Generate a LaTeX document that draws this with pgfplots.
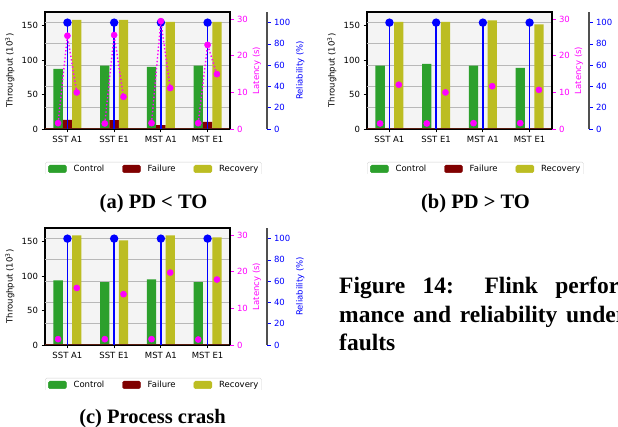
\documentclass[border=0pt]{standalone}
\usepackage{fontspec}
\setmainfont{DejaVu Sans}
\newfontfamily\capfont{Liberation Serif}
\usepackage{pgfplots}
\usepackage{pgfplotstable}
\pgfplotsset{compat=1.18}
\definecolor{cgreen}{HTML}{2CA02C}
\definecolor{cmaroon}{HTML}{800000}
\definecolor{colive}{HTML}{BCBD22}
\definecolor{bgc}{HTML}{F4F4F4}
\definecolor{gridc}{HTML}{B8B8B8}
\definecolor{spinec}{HTML}{505050}
\definecolor{brownline}{HTML}{5A1E10}
\definecolor{cmag}{HTML}{FF00FF}
\definecolor{cblue}{HTML}{0000FF}

\pgfplotstableread{
x ctl fail rec lctl lfail lrec
0 87.4 13.1 158.7 1.6 25.5 10.0
1 92.2 13.0 158.7 1.5 25.7 8.8
2 90.3 5.8 155.8 1.6 29.5 11.2
3 92.2 10.2 155.8 1.6 23.0 15.0
}\dataA
\pgfplotstableread{
x ctl rec lctl lrec
0 92.2 155.8 1.5 12.1
1 94.7 155.8 1.5 10.0
2 92.2 157.8 1.6 11.7
3 88.8 151.9 1.6 10.7
}\dataB
\pgfplotstableread{
x ctl rec lctl lrec
0 93.9 159.2 1.6 15.6
1 91.5 151.9 1.6 13.9
2 95.3 159.2 1.6 19.8
3 91.5 156.3 1.5 17.9
}\dataC

\pgfplotsset{
 every axis/.append style={font=\fontsize{8.5}{10}\selectfont, /pgf/number format/assume math mode=true},
 panelbase/.style={scale only axis, height=117pt, anchor=south west, ymin=0},
 thrax/.style={panelbase, width=185pt, xmin=-0.48, xmax=3.48, ymax=170,
  ytick={0,50,100,150}, xtick={0,1,2,3}, xticklabels={SST A1,SST E1,MST A1,MST E1},
  tick align=outside, xtick pos=bottom, ytick pos=left,
  major tick length=3.5pt, every tick/.style={black, line width=0.8pt},
  axis line style={black, line width=1.1pt},
  axis background/.style={fill=bgc},
  ylabel={Throughput (10\textsuperscript{3})}, ylabel shift=-3pt,
  extra y ticks={30.91,61.82,92.73,123.64,154.55}, extra y tick labels={},
  extra y tick style={grid=major, major grid style={gridc, line width=1pt}, major tick length=0pt},
  legend columns=3,
  legend style={at={(0,-0.282)}, anchor=north west, draw=gray!35, rounded corners=1.5pt,
   inner xsep=3pt, inner ysep=2pt, font=\fontsize{8.5}{10}\selectfont,
   nodes={inner xsep=0pt, inner ysep=1pt},
   /tikz/column sep=7pt, /tikz/every even column/.append style={column sep=18pt}},
 },
 latax/.style={panelbase, width=185pt, xmin=-0.48, xmax=3.48, ymax=32,
  axis y line*=right, axis x line=none, ytick={0,10,20,30}, tick align=outside,
  major tick length=3.5pt, ytick style={cmag, line width=0.8pt},
  yticklabel style={cmag}, y axis line style={black, line width=1.1pt},
  ylabel={Latency (s)}, ylabel style={cmag}, ylabel shift=-2pt, unbounded coords=jump},
 relaxis/.style={panelbase, width=222pt, xmin=-0.48, xmax=4.272, ymax=110,
  axis y line*=right, axis x line=none, ytick={0,20,40,60,80,100}, tick align=outside,
  major tick length=3.5pt, ytick style={cblue, line width=0.8pt},
  yticklabel style={cblue}, y axis line style={spinec, line width=1.1pt},
  ylabel={Reliability (\%)}, ylabel style={cblue}, ylabel shift=-1pt},
 bars/.style={ybar, bar width=0.2, bar shift=0pt, draw=none, forget plot},
 latdot/.style={only marks, mark=*, mark size=3.1pt, color=cmag, mark options={fill=cmag, draw=cmag}, forget plot},
 stem/.style={color=cblue, line width=1.5pt, ycomb, mark=*, mark size=3.4pt, mark options={fill=cblue, draw=cblue}},
 leg/.style={legend image code/.code={\fill[#1] (0pt,-3.5pt) rectangle (18pt,4pt);}},
}

\begin{document}
\begin{tikzpicture}[x=1pt,y=1pt]
\useasboundingbox (0,0) rectangle (618,427);
\clip (0,0) rectangle (618,427);

% ---------- (a) ----------
\begin{axis}[thrax, at={(45pt,298pt)}]
\addlegendimage{leg=cgreen}\addlegendentry{Control}
\addlegendimage{leg=cmaroon}\addlegendentry{Failure}
\addlegendimage{leg=colive}\addlegendentry{Recovery}
\addplot[bars, fill=cgreen] table[x expr=\thisrow{x}-0.2, y=ctl]{\dataA};
\addplot[bars, fill=cmaroon] table[x=x, y=fail]{\dataA};
\addplot[bars, fill=colive] table[x expr=\thisrow{x}+0.2, y=rec]{\dataA};
\draw[brownline, line width=1.3pt] (rel axis cs:0,0) -- (rel axis cs:1,0);
\end{axis}
\begin{axis}[relaxis, at={(45pt,298pt)}]
\addplot[stem] coordinates {(0,100) (1,100) (2,100) (3,100)};
\end{axis}
\begin{axis}[latax, at={(45pt,298pt)}]
\addplot[cmag, line width=1.4pt, dash pattern=on 1.4pt off 2.2pt] coordinates {
(-0.2,1.6) (0,25.5) (0.2,10.0) (0.5,nan)
(0.8,1.5) (1,25.7) (1.2,8.8) (1.5,nan)
(1.8,1.6) (2,29.5) (2.2,11.2) (2.5,nan)
(2.8,1.6) (3,23.0) (3.2,15.0)};
\addplot[latdot] table[x expr=\thisrow{x}-0.2, y=lctl]{\dataA};
\addplot[latdot] table[x=x, y=lfail]{\dataA};
\addplot[latdot] table[x expr=\thisrow{x}+0.2, y=lrec]{\dataA};
\end{axis}

% ---------- (b) ----------
\begin{axis}[thrax, at={(367pt,298pt)}]
\addlegendimage{leg=cgreen}\addlegendentry{Control}
\addlegendimage{leg=cmaroon}\addlegendentry{Failure}
\addlegendimage{leg=colive}\addlegendentry{Recovery}
\addplot[bars, fill=cgreen] table[x expr=\thisrow{x}-0.2, y=ctl]{\dataB};
\addplot[bars, fill=colive] table[x expr=\thisrow{x}+0.2, y=rec]{\dataB};
\draw[brownline, line width=1.3pt] (rel axis cs:0,0) -- (rel axis cs:1,0);
\end{axis}
\begin{axis}[relaxis, at={(367pt,298pt)}]
\addplot[stem] coordinates {(0,100) (1,100) (2,100) (3,100)};
\end{axis}
\begin{axis}[latax, at={(367pt,298pt)}]
\addplot[latdot] table[x expr=\thisrow{x}-0.2, y=lctl]{\dataB};
\addplot[latdot] table[x expr=\thisrow{x}+0.2, y=lrec]{\dataB};
\end{axis}

% ---------- (c) ----------
\begin{axis}[thrax, at={(45pt,82pt)}]
\addlegendimage{leg=cgreen}\addlegendentry{Control}
\addlegendimage{leg=cmaroon}\addlegendentry{Failure}
\addlegendimage{leg=colive}\addlegendentry{Recovery}
\addplot[bars, fill=cgreen] table[x expr=\thisrow{x}-0.2, y=ctl]{\dataC};
\addplot[bars, fill=colive] table[x expr=\thisrow{x}+0.2, y=rec]{\dataC};
\draw[brownline, line width=1.3pt] (rel axis cs:0,0) -- (rel axis cs:1,0);
\end{axis}
\begin{axis}[relaxis, at={(45pt,82pt)}]
\addplot[stem] coordinates {(0,100) (1,100) (2,100) (3,100)};
\end{axis}
\begin{axis}[latax, at={(45pt,82pt)}]
\addplot[latdot] table[x expr=\thisrow{x}-0.2, y=lctl]{\dataC};
\addplot[latdot] table[x expr=\thisrow{x}+0.2, y=lrec]{\dataC};
\end{axis}

% legend crop covers
\fill[white] (38,253.3) rectangle (272,236);
\fill[white] (360,253.3) rectangle (594,236);
\fill[white] (38,37.3) rectangle (272,25);

% captions
\node[anchor=base, inner sep=0pt, font=\capfont\bfseries\fontsize{20.5}{24}\selectfont] at (153.5,218.7) {(a) PD < TO};
\node[anchor=base, inner sep=0pt, font=\capfont\bfseries\fontsize{20.5}{24}\selectfont] at (475.5,218.7) {(b) PD > TO};
\node[anchor=base, inner sep=0pt, font=\capfont\bfseries\fontsize{20.5}{24}\selectfont] at (152.5,3.7) {(c) Process crash};
\node[anchor=base west, inner sep=0pt, text width=287pt, align=justify, font=\capfont\bfseries\fontsize{23.5}{28.3}\selectfont] at (339,133) {Figure 14: Flink perfor-\linebreak mance and reliability under\linebreak faults};
\end{tikzpicture}
\end{document}
